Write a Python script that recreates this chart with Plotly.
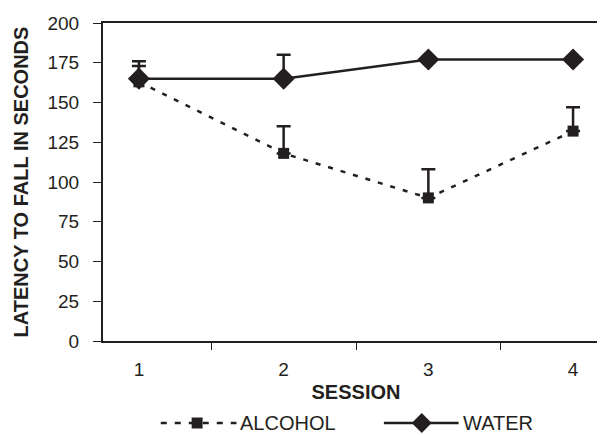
import plotly.graph_objects as go

sessions = ["1", "2", "3", "4"]
alcohol = [163, 118, 90, 132]
alcohol_err = [10, 17, 18, 15]
water = [165, 165, 177, 177]
water_err = [11, 15, 0, 0]
y_ticks = [0, 25, 50, 75, 100, 125, 150, 175, 200]

ink = "#231f20"
FONT = "Liberation Sans, Arial, sans-serif"

W, H = 605, 435
L, R, T, B = 95, 2, 15, 102
PW, PH = W - L - R, H - T - B


def px(x):
    return (x - L) / PW


def py(y):
    return (H - B - y) / PH


fig = go.Figure()
fig.add_trace(go.Scatter(
    x=sessions, y=alcohol, name="ALCOHOL", mode="lines+markers",
    line=dict(color=ink, width=2.5, dash="5px,8px"),
    marker=dict(symbol="square", size=11, color=ink),
    error_y=dict(type="data", symmetric=False, array=alcohol_err,
                 arrayminus=[0] * len(alcohol), color=ink, thickness=2.5, width=7),
))
fig.add_trace(go.Scatter(
    x=sessions, y=water, name="WATER", mode="lines+markers",
    line=dict(color=ink, width=2.5),
    marker=dict(symbol="diamond", size=17, color=ink),
    error_y=dict(type="data", symmetric=False, array=water_err,
                 arrayminus=[0] * len(water), color=ink, thickness=2.5, width=7),
))

# custom legend (long sample lines as in the original)
ly = 415
shapes = [
    dict(type="line", xref="paper", yref="paper", x0=px(153), x1=px(229), y0=py(ly), y1=py(ly),
         line=dict(color=ink, width=2.5, dash="6px,8px")),
    dict(type="rect", xref="paper", yref="paper", x0=px(184), x1=px(195), y0=py(ly + 5.5), y1=py(ly - 5.5),
         fillcolor=ink, line=dict(width=0)),
    dict(type="line", xref="paper", yref="paper", x0=px(377), x1=px(452), y0=py(ly), y1=py(ly),
         line=dict(color=ink, width=2.5)),
    dict(type="path", xref="paper", yref="paper",
         path=f"M {px(405)},{py(ly)} L {px(415)},{py(ly - 10)} L {px(425)},{py(ly)} L {px(415)},{py(ly + 10)} Z",
         fillcolor=ink, line=dict(width=0)),
]
annotations = [
    dict(text="ALCOHOL", xref="paper", yref="paper", x=px(232), y=py(ly), xanchor="left",
         yanchor="middle", showarrow=False, borderpad=0,
         font=dict(size=20, family=FONT, color=ink)),
    dict(text="WATER", xref="paper", yref="paper", x=px(455), y=py(ly), xanchor="left",
         yanchor="middle", showarrow=False, borderpad=0,
         font=dict(size=20, family=FONT, color=ink)),
]

fig.update_layout(
    width=W, height=H,
    margin=dict(l=L, r=R, t=T, b=B),
    paper_bgcolor="white", plot_bgcolor="white",
    font=dict(family=FONT, size=19, color=ink),
    showlegend=False,
    shapes=shapes, annotations=annotations,
    xaxis=dict(
        title=dict(text="<b>SESSION</b>", font=dict(size=20), standoff=6),
        type="category", showline=True, linecolor=ink, linewidth=2, mirror=True,
        ticks="outside", ticklen=7, tickcolor=ink, tickwidth=1, tickson="boundaries",
        ticklabelstandoff=10,
        showgrid=False, zeroline=False,
    ),
    yaxis=dict(
        title=dict(text="<b>LATENCY TO FALL IN SECONDS</b>", font=dict(size=20), standoff=13),
        range=[0, 200], tickvals=y_ticks, showline=True, linecolor=ink, linewidth=2, mirror=True,
        ticks="outside", ticklen=8, tickcolor=ink, tickwidth=1, ticklabelstandoff=10,
        showgrid=False, zeroline=False,
    ),
)

fig.write_html("out.html")
